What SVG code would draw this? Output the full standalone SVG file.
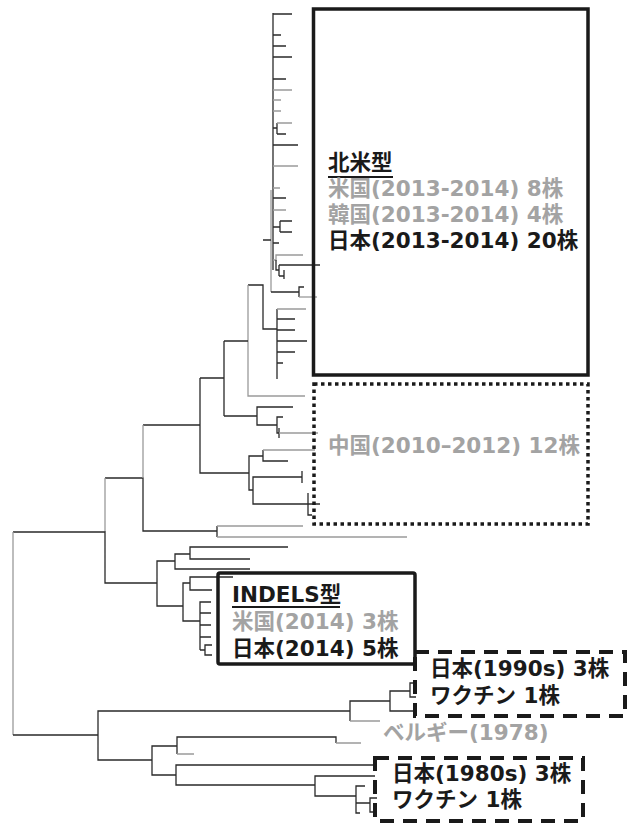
<svg xmlns="http://www.w3.org/2000/svg" width="632" height="823" viewBox="0 0 632 823">
<style>
.b{fill:none;stroke:#2a2a2a;stroke-width:1.3}
.g{fill:none;stroke:#9a9a9a;stroke-width:1.3}
.t{font-family:"DejaVu Sans","Noto Sans CJK JP",sans-serif;font-weight:bold;font-size:21.5px;fill:#1a1a1a}
.gt{fill:#a3a3a3}
.box{fill:none;stroke:#1a1a1a;stroke-width:3.5}
.dot{stroke-dasharray:3.5 3.5}
.dash{stroke-width:4;stroke-dasharray:14 9}
.ul{stroke:#1a1a1a;stroke-width:1.8}
</style>
<rect width="632" height="823" fill="#fff"/>
<g id="tree">
<path class="b" d="M273,13V270"/>
<path class="g" d="M271,190V292"/>
<path class="b" d="M273,14H292M273,35H281M273,46H286M273,57H292M273,79H286M273,128H277M277,123V134M277,134H286M273,145H298M273,198H286M273,227H280M280,221V232M280,221H292M280,232H292M273,243H279"/>
<path class="g" d="M273,90H292M273,100H281M273,111H281M277,123H292M273,166H298M273,188H280M273,210H286M273,260H276V255H303"/>
<path class="b" d="M276,260V270H279M279,265V276M279,265H320M279,276H284M284,270V279"/>
<path class="b" d="M263,240H271M271,292H299V287H304M299,292V297"/>
<path class="g" d="M299,297H317"/>
<path class="b" d="M248,285H263V329H277M277,309V379M277,319H295M277,330H295M277,341H307M277,352H295M277,363H283"/>
<path class="g" d="M277,309H306M248,285V396H305"/>
<path class="b" d="M224,341H248M224,341V416M200,378H224M224,416H257V407H293M257,416V425H277V417H283M277,425V433H279M279,428V438"/>
<path class="g" d="M279,433H318"/>
<path class="b" d="M143,425H200V473H249V456H263V450M263,456V461H288M249,473V490H253V477H302M302,471V483M253,490V504H320M308,493V515H312M200,425V378"/>
<path class="g" d="M263,450H315"/>
<path class="b" d="M105,478H143V531H217V526M217,531V537"/>
<path class="g" d="M217,526H303M217,537H407M143,425V478M105,478V532"/>
<path class="b" d="M13,532H105V583H157V561H175V554H190V547H288M190,554V559H250M175,561V569H250M157,583V606H183V583H190V577H233M190,583V590H212M183,606V621H200V602H211M200,613H211M200,625H211M200,637H211M200,650H205V645H212M205,650V655H212M200,621V650"/>
<path class="g" d="M13,532V735"/>
<path class="b" d="M13,735H98V711H350V701H390V691H410V683H416M410,691V697H416M390,701V711H415M350,711V721M98,735V760H152V746H177V737H336V743M177,746V754M152,760V775H176V765H375M176,775V785H315V776H375M315,785V796H356V786H365M356,796V813H360M356,803H370V798H377M370,803V812H377"/>
<path class="g" d="M350,721H380M336,743H361M177,754H194"/>
</g>
<g id="na">
<rect class="box" x="313.5" y="9" width="274.5" height="366"/>
<text class="t" x="328" y="170">北米型</text>
<line class="ul" x1="328" y1="177" x2="393" y2="177"/>
<text class="t gt" x="328" y="196">米国(2013-2014) 8株</text>
<text class="t gt" x="328" y="222">韓国(2013-2014) 4株</text>
<text class="t" x="328" y="248">日本(2013-2014) 20株</text>
</g>
<g id="china">
<rect class="box dot" x="314" y="384" width="274" height="140"/>
<text class="t gt" x="328" y="453">中国(2010–2012) 12株</text>
</g>
<g id="indels">
<rect class="box" x="218" y="573" width="197" height="91" rx="2"/>
<text class="t" x="232" y="602">INDELS型</text>
<line class="ul" x1="232" y1="607" x2="340" y2="607"/>
<text class="t gt" x="232" y="629">米国(2014) 3株</text>
<text class="t" x="232" y="656">日本(2014) 5株</text>
</g>
<g id="jp1990">
<rect class="box dash" x="415" y="652" width="210" height="64"/>
<text class="t" x="430" y="676">日本(1990s) 3株</text>
<text class="t" x="430" y="703">ワクチン 1株</text>
</g>
<g id="belgium">
<text class="t gt" x="383" y="740">ベルギー(1978)</text>
</g>
<g id="jp1980">
<rect class="box dash" x="375" y="758" width="208" height="63"/>
<text class="t" x="392" y="781">日本(1980s) 3株</text>
<text class="t" x="392" y="807">ワクチン 1株</text>
</g>
</svg>
